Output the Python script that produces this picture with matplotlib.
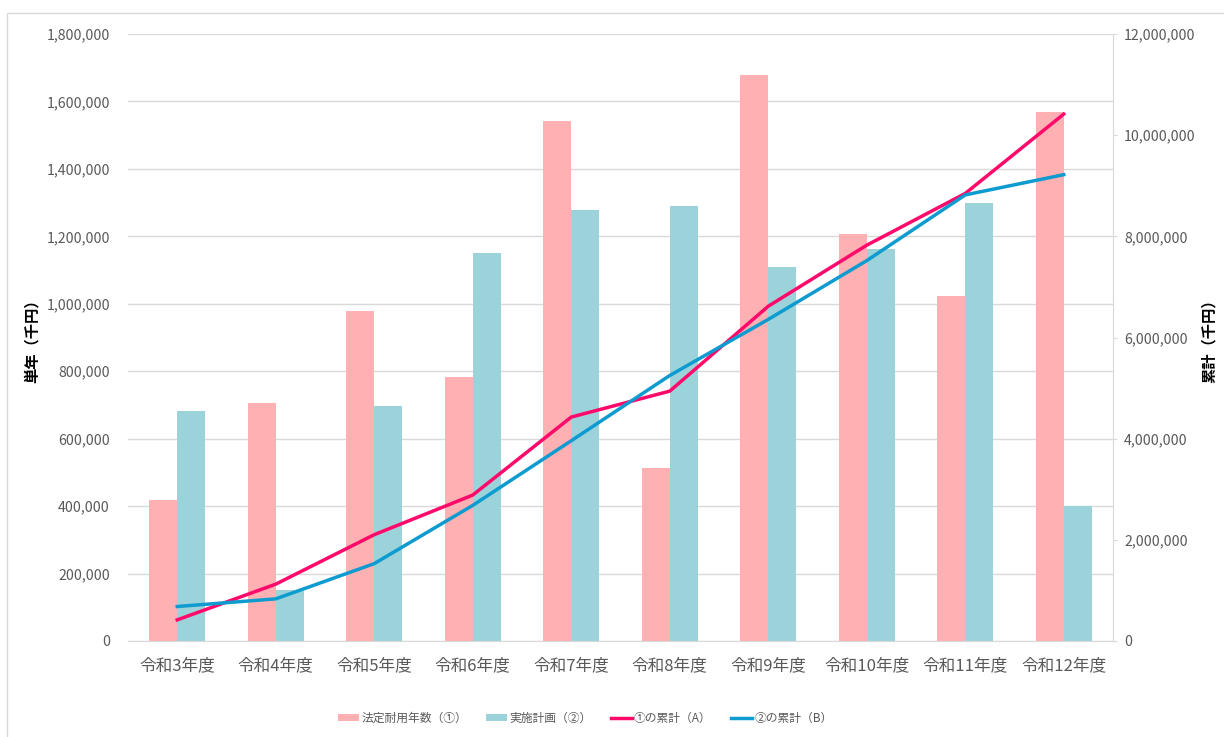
import numpy as np
import matplotlib
matplotlib.use("Agg")
import matplotlib.pyplot as plt
from matplotlib.patches import Rectangle
from matplotlib.ticker import FuncFormatter, MultipleLocator

plt.rcParams['font.family'] = ['Noto Sans CJK JP', 'DejaVu Sans']

categories = ["令和3年度", "令和4年度", "令和5年度", "令和6年度", "令和7年度",
              "令和8年度", "令和9年度", "令和10年度", "令和11年度", "令和12年度"]
legal_life = [418000, 706000, 978000, 783000, 1542000, 513000, 1678000, 1207000, 1023000, 1569000]
plan = [682000, 151000, 697000, 1151000, 1278000, 1290000, 1109000, 1162000, 1299000, 400000]
cum_a = [418000, 1124000, 2102000, 2885000, 4427000, 4940000, 6618000, 7825000, 8848000, 10417000]
cum_b = [682000, 833000, 1530000, 2681000, 3959000, 5249000, 6358000, 7520000, 8819000, 9219000]

labels = ["法定耐用年数（①）", "実施計画（②）", "①の累計（A）", "②の累計（B）"]

c_pink = "#FFB0B2"
c_teal = "#9CD3DB"
c_line_a = "#FF0A6A"
c_line_b = "#0E9BD0"
grid_c = "#D9D9D9"
txt_c = "#595959"

W, H = 1224, 737
fig = plt.figure(figsize=(W / 100, H / 100), dpi=100)
fig.patch.set_facecolor("white")

# outer chart frame (partially cropped)
fig.patches.append(Rectangle((7 / W, -0.05), 1.2, (H - 13) / H + 0.05,
                             transform=fig.transFigure, fill=False,
                             edgecolor="#D9D9D9", linewidth=1.0))

ax = fig.add_axes([128 / W, (H - 641) / H, (1113 - 128) / W, (641 - 34) / H])
x = np.arange(len(categories))
bw = 0.285
ax.bar(x - bw / 2, legal_life, width=bw, color=c_pink, label=labels[0], zorder=2)
ax.bar(x + bw / 2, plan, width=bw, color=c_teal, label=labels[1], zorder=2)
ax.set_xlim(-0.5, len(categories) - 0.5)
ax.set_ylim(0, 1800000)
ax.yaxis.set_major_locator(MultipleLocator(200000))
ax.yaxis.set_major_formatter(FuncFormatter(lambda v, p: f"{int(v):,}"))
ax.grid(axis="y", color=grid_c, linewidth=1.0, zorder=0)
ax.set_axisbelow(True)
for s in ["top", "right", "left"]:
    ax.spines[s].set_visible(False)
ax.spines["bottom"].set_color(grid_c)
ax.tick_params(axis="y", length=0, pad=13, labelsize=10.2, labelcolor=txt_c)
ax.tick_params(axis="x", length=0, pad=12, labelsize=12, labelcolor=txt_c)
ax.set_xticks(x)
ax.set_xticklabels(categories)

ax2 = ax.twinx()
ax2.plot(x, cum_a, color=c_line_a, linewidth=2.5, label=labels[2], zorder=3)
ax2.plot(x, cum_b, color=c_line_b, linewidth=2.5, label=labels[3], zorder=3)
ax2.set_ylim(0, 12000000)
ax2.yaxis.set_major_locator(MultipleLocator(2000000))
ax2.yaxis.set_major_formatter(FuncFormatter(lambda v, p: f"{int(v):,}"))
for s in ["top", "left", "bottom"]:
    ax2.spines[s].set_visible(False)
ax2.spines["right"].set_color(grid_c)
ax2.tick_params(axis="y", length=3, color=grid_c, pad=5, labelsize=10.2, labelcolor=txt_c)

fig.text(32 / W, (H - 337) / H, "単年（千円）", rotation=90, ha="center", va="center",
         fontsize=11, fontweight="bold", color="black")
fig.text(1209 / W, (H - 337) / H, "累計（千円）", rotation=90, ha="center", va="center",
         fontsize=11, fontweight="bold", color="black")

h1, l1 = ax.get_legend_handles_labels()
h2, l2 = ax2.get_legend_handles_labels()
fig.legend(h1 + h2, l1 + l2, loc="center", bbox_to_anchor=(585 / W, (H - 718) / H),
           ncol=4, frameon=False, fontsize=8.5, labelcolor=txt_c,
           handlelength=1.8, handleheight=0.6, columnspacing=1.6, handletextpad=0.2)

fig.savefig("out.png", dpi=100, facecolor="white")
